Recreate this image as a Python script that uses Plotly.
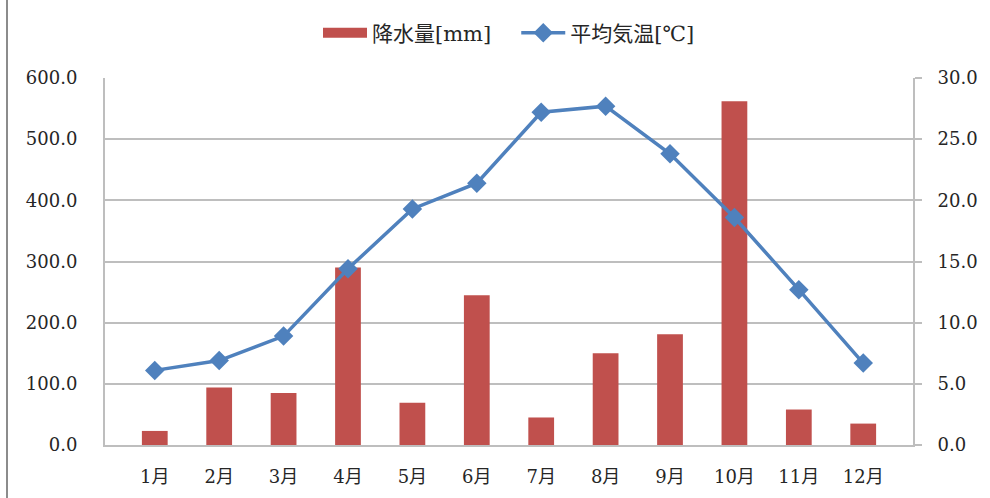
import plotly.graph_objects as go

months = ["1月", "2月", "3月", "4月", "5月", "6月", "7月", "8月", "9月", "10月", "11月", "12月"]
precip = [23, 94, 85, 290, 69, 245, 45, 150, 181, 562, 58, 35]
temp = [6.1, 6.9, 8.9, 14.4, 19.3, 21.4, 27.2, 27.7, 23.8, 18.6, 12.7, 6.7]
left_ticks = [0, 100, 200, 300, 400, 500, 600]
right_ticks = [0, 5, 10, 15, 20, 25, 30]

FONT = "DejaVu Serif, Noto Sans CJK JP"
GRID = "#BEBEBE"
RED = "#C0504D"
BLUE = "#4F81BD"
TXT = "#262626"
PAD = "\u00a0" * 3

fig = go.Figure()
fig.add_trace(go.Bar(
    x=months, y=precip, name="降水量[mm]",
    marker=dict(color=RED, line=dict(width=0)),
    yaxis="y", showlegend=False,
))
# legend entry for bars drawn as a wide red swatch
fig.add_trace(go.Scatter(
    x=[None], y=[None], name="降水量[mm]" + PAD, mode="lines",
    line=dict(color=RED, width=10), yaxis="y", hoverinfo="skip",
))
fig.add_trace(go.Scatter(
    x=months, y=temp, name="平均気温[℃]", mode="lines+markers",
    line=dict(color=BLUE, width=3.5),
    marker=dict(symbol="diamond", size=15, color=BLUE),
    yaxis="y2",
))

fig.update_layout(
    width=990, height=498,
    margin=dict(l=105, r=77, t=78, b=53, autoexpand=False),
    paper_bgcolor="white", plot_bgcolor="white",
    font=dict(family=FONT, size=18, color=TXT),
    bargap=0.6,
    showlegend=True,
    legend=dict(orientation="h", x=0.5, xanchor="center", y=(445 - 33) / 367, yanchor="middle",
                font=dict(size=21, family=FONT, color=TXT), itemwidth=44, traceorder="normal",
                tracegroupgap=0, bgcolor="rgba(0,0,0,0)"),
    xaxis=dict(
        type="category", showgrid=False, showline=True, linecolor=GRID, linewidth=2,
        ticks="outside", ticklen=14, tickcolor="rgba(0,0,0,0)",
        tickfont=dict(size=18, family=FONT, color=TXT), mirror=False,
    ),
    yaxis=dict(
        range=[0, 600], tickvals=left_ticks, ticktext=[f"{v:.1f}" for v in left_ticks],
        showgrid=True, gridcolor=GRID, gridwidth=2, zeroline=False,
        showline=True, linecolor=GRID, linewidth=2,
        ticks="outside", ticklen=22, tickcolor="rgba(0,0,0,0)",
        tickfont=dict(size=18, family=FONT, color=TXT),
    ),
    yaxis2=dict(
        range=[0, 30], tickvals=right_ticks, ticktext=[f"{v:.1f}" for v in right_ticks],
        overlaying="y", side="right", showgrid=False, zeroline=False,
        showline=True, linecolor=GRID, linewidth=2,
        ticks="outside", ticklen=7, tickcolor=GRID, tickwidth=2,
        ticklabelstandoff=12,
        tickfont=dict(size=18, family=FONT, color=TXT),
    ),
    shapes=[dict(type="line", xref="paper", yref="paper",
                 x0=(7 - 105) / 808, x1=(7 - 105) / 808,
                 y0=-53 / 367, y1=445 / 367,
                 line=dict(color="#8C8C8C", width=2))],
)

fig.write_html("out.html", config={"displayModeBar": False},
               post_script="document.body.style.margin='0';document.body.style.overflow='hidden';")
